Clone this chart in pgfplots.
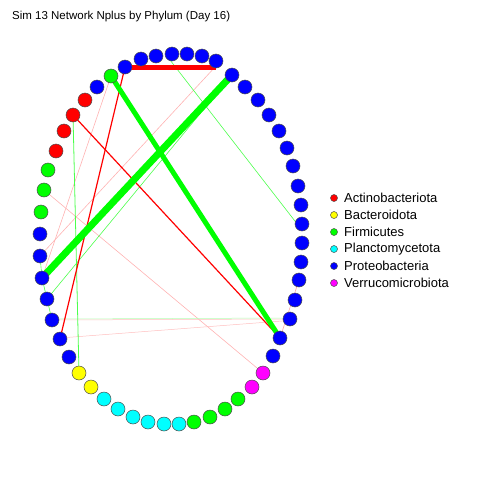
\documentclass[border=0pt]{standalone}
\usepackage{pgfplots}
\pgfplotsset{compat=1.18}
\usepackage{fontspec}
\setmainfont{Liberation Sans}
\definecolor{cb}{RGB}{0,0,255}
\definecolor{cg}{RGB}{0,255,0}
\definecolor{cr}{RGB}{255,0,0}
\definecolor{cy}{RGB}{255,255,0}
\definecolor{cc}{RGB}{0,255,255}
\definecolor{cm}{RGB}{255,0,255}
\begin{document}
\begin{tikzpicture}
\begin{axis}[scale only axis, width=480pt, height=480pt, hide axis,
 xmin=0,xmax=480,ymin=0,ymax=480,y dir=reverse, clip=false]
\path[draw=none] (axis cs:0,0) rectangle (axis cs:480,480);
% edges
\addplot[cr!30, line width=0.6pt] coordinates {(216,66) (40,256)};
\addplot[cr!30, line width=0.6pt] coordinates {(111,76) (42,278)};
\addplot[cr!30, line width=0.6pt] coordinates {(44,190) (263,373)};
\addplot[cr!25, line width=0.5pt] coordinates {(52,320) (290,319)};
\addplot[cr!25, line width=0.5pt] coordinates {(60,338) (295,320)};
\addplot[cg!30, line width=0.5pt] coordinates {(52,319) (290,318)};
\addplot[cr!35, line width=0.6pt] coordinates {(280,338) (299,280)};
\addplot[cg!70, line width=0.6pt] coordinates {(170,60) (298,225)};
\addplot[cg!70, line width=0.6pt] coordinates {(232,75) (47,299)};
\addplot[cg!70, line width=0.6pt] coordinates {(40,256) (42,278) (47,299) (52,320)};
\addplot[cg!70, line width=0.8pt] coordinates {(73,115) (79,373)};
\addplot[cr, line width=1.2pt] coordinates {(125,67) (60,339)};
\addplot[cr, line width=1.2pt] coordinates {(73,115) (280,338)};
\addplot[cr, line width=5pt] coordinates {(125,67) (216,67)};
\addplot[cg, line width=5pt] coordinates {(111,76) (280,338)};
\addplot[cg, line width=7pt] coordinates {(232,75) (42,278)};
% nodes
\pgfplotsset{nd/.style={only marks, mark=*, mark size=7pt, mark options={draw=black!70, line width=0.5pt, fill=#1}}}
\addplot[nd=cb] coordinates {(125,67)(97,87)(40,234)(40,256)(42,278)(47,299)(52,320)(60,339)(69,357)(273,356)(280,338)
(290,319)(295,300)(299,280)(301,262)(302,243)(302,224)(301,205)(298,186)(293,166)(287,148)(279,131)(269,115)(258,100)(245,87)(232,75)
(141,59)(156,56)(172,54)(187,54)(202,56)(216,61)};
\addplot[nd=cg] coordinates {(111,76)(48,170)(44,190)(41,212)(194,422)(210,417)(225,409)(238,399)};
\addplot[nd=cr] coordinates {(85,100)(73,115)(64,131)(56,151)};
\addplot[nd=cy] coordinates {(79,373)(91,387)};
\addplot[nd=cc] coordinates {(104,399)(118,409)(133,417)(148,422)(164,424)(179,424)};
\addplot[nd=cm] coordinates {(252,387)(263,373)};
% legend
\addplot[nd=cr, mark size=3.5pt] coordinates {(334,198)};
\addplot[nd=cy, mark size=3.5pt] coordinates {(334,215)};
\addplot[nd=cg, mark size=3.5pt] coordinates {(334,232)};
\addplot[nd=cc, mark size=3.5pt] coordinates {(334,249)};
\addplot[nd=cb, mark size=3.5pt] coordinates {(334,266)};
\addplot[nd=cm, mark size=3.5pt] coordinates {(334,283)};
\begin{scope}[every node/.style={anchor=west, font=\fontsize{13}{13}\selectfont, inner sep=0pt}]
\node at (axis cs:344,198) {Actinobacteriota};
\node at (axis cs:344,215) {Bacteroidota};
\node at (axis cs:344,232) {Firmicutes};
\node at (axis cs:344,249) {Planctomycetota};
\node at (axis cs:344,266) {Proteobacteria};
\node at (axis cs:344,283) {Verrucomicrobiota};
\end{scope}
\node[anchor=west, inner sep=0pt, font=\fontsize{11.5}{12}\selectfont] at (axis cs:12,17) {Sim 13 Network Nplus by Phylum (Day 16)};
\end{axis}
\end{tikzpicture}
\end{document}
